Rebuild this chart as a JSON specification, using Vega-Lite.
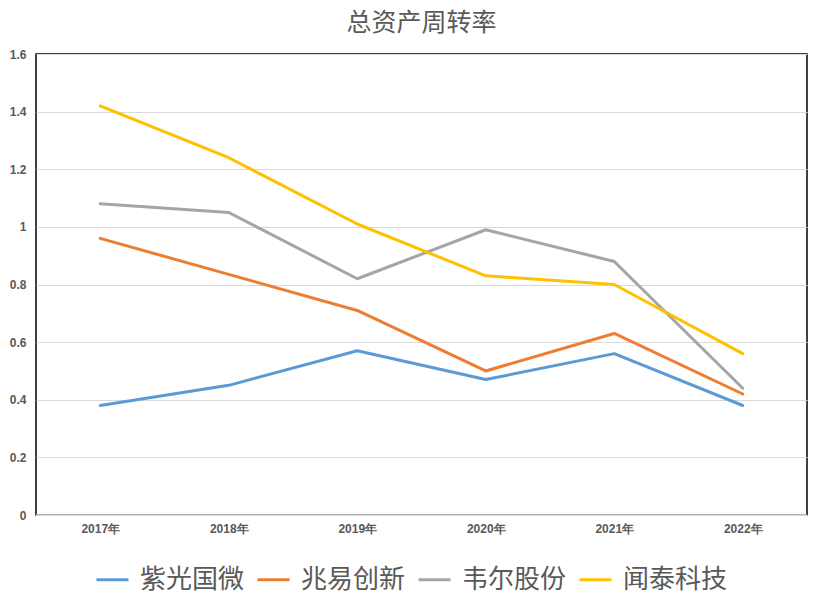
{
  "$schema": "https://vega.github.io/schema/vega-lite/v6.json",
  "autosize": "none",
  "width": 771,
  "height": 461,
  "padding": {"left": 36, "top": 54, "right": 14, "bottom": 82},
  "background": "white",
  "title": {
    "text": "总资产周转率",
    "font": "Noto Sans CJK SC",
    "fontSize": 25,
    "fontWeight": "normal",
    "color": "#595959",
    "anchor": "middle",
    "offset": 12
  },
  "config": {
    "view": {"stroke": "black", "strokeWidth": 1.5},
    "axis": {
      "labelFont": "Liberation Sans",
      "labelFontSize": 12,
      "labelFontWeight": "bold",
      "labelColor": "#595959",
      "ticks": false,
      "domain": false,
      "title": null,
      "gridColor": "#D9D9D9",
      "gridWidth": 1
    }
  },
  "data": {
    "values": [
      {"year": "2017年", "company": "紫光国微", "value": 0.38},
      {"year": "2018年", "company": "紫光国微", "value": 0.45},
      {"year": "2019年", "company": "紫光国微", "value": 0.57},
      {"year": "2020年", "company": "紫光国微", "value": 0.47},
      {"year": "2021年", "company": "紫光国微", "value": 0.56},
      {"year": "2022年", "company": "紫光国微", "value": 0.38},
      {"year": "2017年", "company": "兆易创新", "value": 0.96},
      {"year": "2018年", "company": "兆易创新", "value": 0.835},
      {"year": "2019年", "company": "兆易创新", "value": 0.71},
      {"year": "2020年", "company": "兆易创新", "value": 0.50},
      {"year": "2021年", "company": "兆易创新", "value": 0.63},
      {"year": "2022年", "company": "兆易创新", "value": 0.42},
      {"year": "2017年", "company": "韦尔股份", "value": 1.08},
      {"year": "2018年", "company": "韦尔股份", "value": 1.05},
      {"year": "2019年", "company": "韦尔股份", "value": 0.82},
      {"year": "2020年", "company": "韦尔股份", "value": 0.99},
      {"year": "2021年", "company": "韦尔股份", "value": 0.88},
      {"year": "2022年", "company": "韦尔股份", "value": 0.44},
      {"year": "2017年", "company": "闻泰科技", "value": 1.42},
      {"year": "2018年", "company": "闻泰科技", "value": 1.24},
      {"year": "2019年", "company": "闻泰科技", "value": 1.01},
      {"year": "2020年", "company": "闻泰科技", "value": 0.83},
      {"year": "2021年", "company": "闻泰科技", "value": 0.80},
      {"year": "2022年", "company": "闻泰科技", "value": 0.56}
    ]
  },
  "layer": [
    {
      "mark": {"type": "line", "strokeWidth": 3, "strokeCap": "round", "strokeJoin": "round"},
      "encoding": {
        "x": {
          "field": "year", "type": "ordinal",
          "scale": {"type": "point", "padding": 0.5},
          "axis": {"labelAngle": 0, "grid": false, "labelPadding": 8}
        },
        "y": {
          "field": "value", "type": "quantitative",
          "scale": {"domain": [0, 1.6], "nice": false},
          "axis": {"values": [0, 0.2, 0.4, 0.6, 0.8, 1, 1.2, 1.4, 1.6], "format": "~g", "labelPadding": 10, "grid": true}
        },
        "color": {
          "field": "company", "type": "nominal",
          "scale": {
            "domain": ["紫光国微", "兆易创新", "韦尔股份", "闻泰科技"],
            "range": ["#5B9BD5", "#ED7D31", "#A5A5A5", "#FFC000"]
          },
          "legend": {
            "title": null,
            "orient": "none",
            "legendX": 59,
            "legendY": 508,
            "direction": "horizontal",
            "labelFont": "Noto Sans CJK SC",
            "labelFontSize": 26,
            "labelColor": "#595959",
            "symbolType": "stroke",
            "symbolSize": 1024,
            "symbolStrokeWidth": 3,
            "columnPadding": 6,
            "labelOffset": 10
          }
        }
      }
    },
    {
      "data": {"values": [{"y": 0}]},
      "mark": {"type": "rule", "color": "#D9D9D9", "strokeWidth": 1.5},
      "encoding": {"y": {"field": "y", "type": "quantitative"}}
    }
  ]
}
